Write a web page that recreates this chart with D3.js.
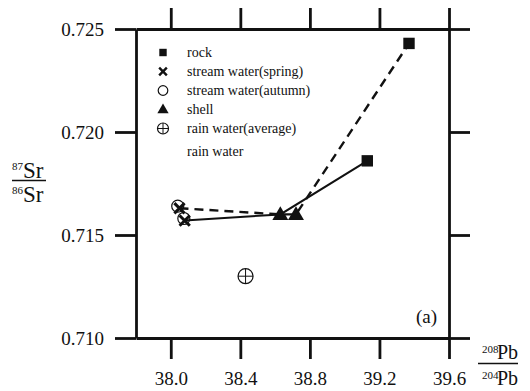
<!DOCTYPE html>
<html>
<head>
<meta charset="utf-8">
<script src="https://cdn.jsdelivr.net/npm/d3@7"></script>
<style>
html,body{margin:0;padding:0;background:#fff;}
svg{display:block;}
</style>
</head>
<body>
<svg id="chart" width="530" height="391" style="font-family:'Liberation Serif','Times New Roman',serif"></svg>
<script>
// ---- data ----
const xTicks = [38.0, 38.4, 38.8, 39.2, 39.6];
const yTicks = [0.710, 0.715, 0.720, 0.725];
const rockX = [39.13, 39.37];
const rockY = [0.7186, 0.7243];
const shellX = [38.63, 38.72];
const shellY = [0.7160, 0.7160];
const springX = [38.05, 38.08];
const springY = [0.7163, 0.7157];
const autumnX = [38.04, 38.075];
const autumnY = [0.7164, 0.7158];
const rainX = [38.43];
const rainY = [0.7130];
const legendLabels = ["rock", "stream water(spring)", "stream water(autumn)", "shell", "rain water(average)", "rain water"];

const FONT = "'Liberation Serif','Times New Roman',serif";
const svg = d3.select("#chart");
const x = d3.scaleLinear().domain([37.8, 39.6]).range([136, 449]);
const y = d3.scaleLinear().domain([0.710, 0.725]).range([338, 29]);
const T = 21;

function styleAxis(g, labels) {
  g.attr("font-family", null).style("font-family", FONT);
  g.selectAll(".domain").attr("stroke", "#111").attr("stroke-width", 2.8);
  g.selectAll(".tick line").attr("stroke", "#111").attr("stroke-width", 2.8);
  g.selectAll(".tick text").style("font-family", FONT).attr("font-size", 19).attr("fill", "#111");
  if (!labels) g.selectAll(".tick text").remove();
}
svg.append("g").attr("transform", "translate(0,338)")
  .call(d3.axisBottom(x).tickValues(xTicks).tickSize(T).tickSizeOuter(0).tickPadding(13).tickFormat(d3.format(".1f")))
  .call(g => styleAxis(g, true));
svg.append("g").attr("transform", "translate(0,29)")
  .call(d3.axisTop(x).tickValues(xTicks).tickSize(T).tickSizeOuter(0))
  .call(g => styleAxis(g, false));
svg.append("g").attr("transform", "translate(136,0)")
  .call(d3.axisLeft(y).tickValues(yTicks).tickSize(T).tickSizeOuter(0).tickPadding(11).tickFormat(d3.format(".3f")))
  .call(g => styleAxis(g, true));
svg.append("g").attr("transform", "translate(449,0)")
  .call(d3.axisRight(y).tickValues(yTicks).tickSize(T).tickSizeOuter(0))
  .call(g => styleAxis(g, false));

// ---- lines ----
const line = d3.line().x(d => x(d[0])).y(d => y(d[1]));
const solidPts = [[springX[1], springY[1]], [shellX[0], shellY[0]], [rockX[0], rockY[0]]];
const dashPts = [[springX[0], springY[0]], [shellX[0], shellY[0]], [shellX[1], shellY[1]], [rockX[1], rockY[1]]];
svg.append("path").attr("d", line(solidPts)).attr("fill", "none").attr("stroke", "#111").attr("stroke-width", 2);
svg.append("path").attr("d", line(dashPts)).attr("fill", "none").attr("stroke", "#111").attr("stroke-width", 2.4).attr("stroke-dasharray", "9,6");

// ---- markers ----
const sq = d3.symbol().type(d3.symbolSquare);
const tri = d3.symbol().type(d3.symbolTriangle);
const times = d3.symbol().type(d3.symbolTimes);

function drawSquare(cx, cy, s) {
  svg.append("path").attr("d", sq.size(s)()).attr("transform", `translate(${cx},${cy})`).attr("fill", "#111");
}
function drawTri(cx, cy, s) {
  svg.append("path").attr("d", tri.size(s)()).attr("transform", `translate(${cx},${cy})`).attr("fill", "#111");
}
function drawTimes(cx, cy, s, w) {
  svg.append("path").attr("d", times.size(s)()).attr("transform", `translate(${cx},${cy})`).attr("fill", "none").attr("stroke", "#111").attr("stroke-width", w);
}
function drawCircle(cx, cy, r) {
  svg.append("circle").attr("cx", cx).attr("cy", cy).attr("r", r).attr("fill", "none").attr("stroke", "#111").attr("stroke-width", 1.2);
}
function drawOplus(cx, cy, r) {
  drawCircle(cx, cy, r);
  svg.append("path").attr("d", `M${cx - r},${cy}H${cx + r}M${cx},${cy - r}V${cy + r}`).attr("stroke", "#111").attr("stroke-width", 1);
}

autumnX.forEach((v, i) => drawCircle(x(v), y(autumnY[i]), 6));
springX.forEach((v, i) => drawTimes(x(v), y(springY[i]), 70, 3));
shellX.forEach((v, i) => drawTri(x(v), y(shellY[i]) + 1, 110));
rockX.forEach((v, i) => drawSquare(x(v), y(rockY[i]), 130));
rainX.forEach((v, i) => drawOplus(x(v), y(rainY[i]), 7.5));

// ---- legend ----
const legY = [52.5, 71.5, 90.5, 109.5, 128.5, 151];
const legMx = 163, legTx = 187;
drawSquare(legMx, legY[0], 55);
drawTimes(legMx, legY[1], 40, 2.4);
drawCircle(legMx, legY[2], 4.8);
drawTri(legMx, legY[3] + 0.5, 55);
drawOplus(legMx, legY[4], 5.5);
legendLabels.forEach((t, i) => {
  svg.append("text").style("font-family", FONT).attr("fill", "#111").attr("x", legTx).attr("y", legY[i] + 4.5).attr("font-size", 14).text(t);
});

function txt(xp, yp, size, t) {
  svg.append("text").style("font-family", FONT).attr("fill", "#111").attr("x", xp).attr("y", yp).attr("font-size", size).text(t);
}
// ---- panel label ----
txt(416, 323, 19, "(a)");

// ---- y title (87Sr / 86Sr) ----
txt(12, 170, 11, "87");
txt(23, 177.5, 23, "Sr");
svg.append("line").attr("x1", 12).attr("x2", 46).attr("y1", 180.5).attr("y2", 180.5).attr("stroke", "#111").attr("stroke-width", 1.5);
txt(12, 194, 11, "86");
txt(23, 201.5, 23, "Sr");

// ---- x title (208Pb / 204Pb) ----
txt(482, 353, 11, "208");
txt(497, 359, 20, "Pb");
svg.append("line").attr("x1", 478).attr("x2", 518).attr("y1", 363.5).attr("y2", 363.5).attr("stroke", "#111").attr("stroke-width", 1.5);
txt(482, 379, 11, "204");
txt(497, 385, 20, "Pb");
</script>
</body>
</html>
